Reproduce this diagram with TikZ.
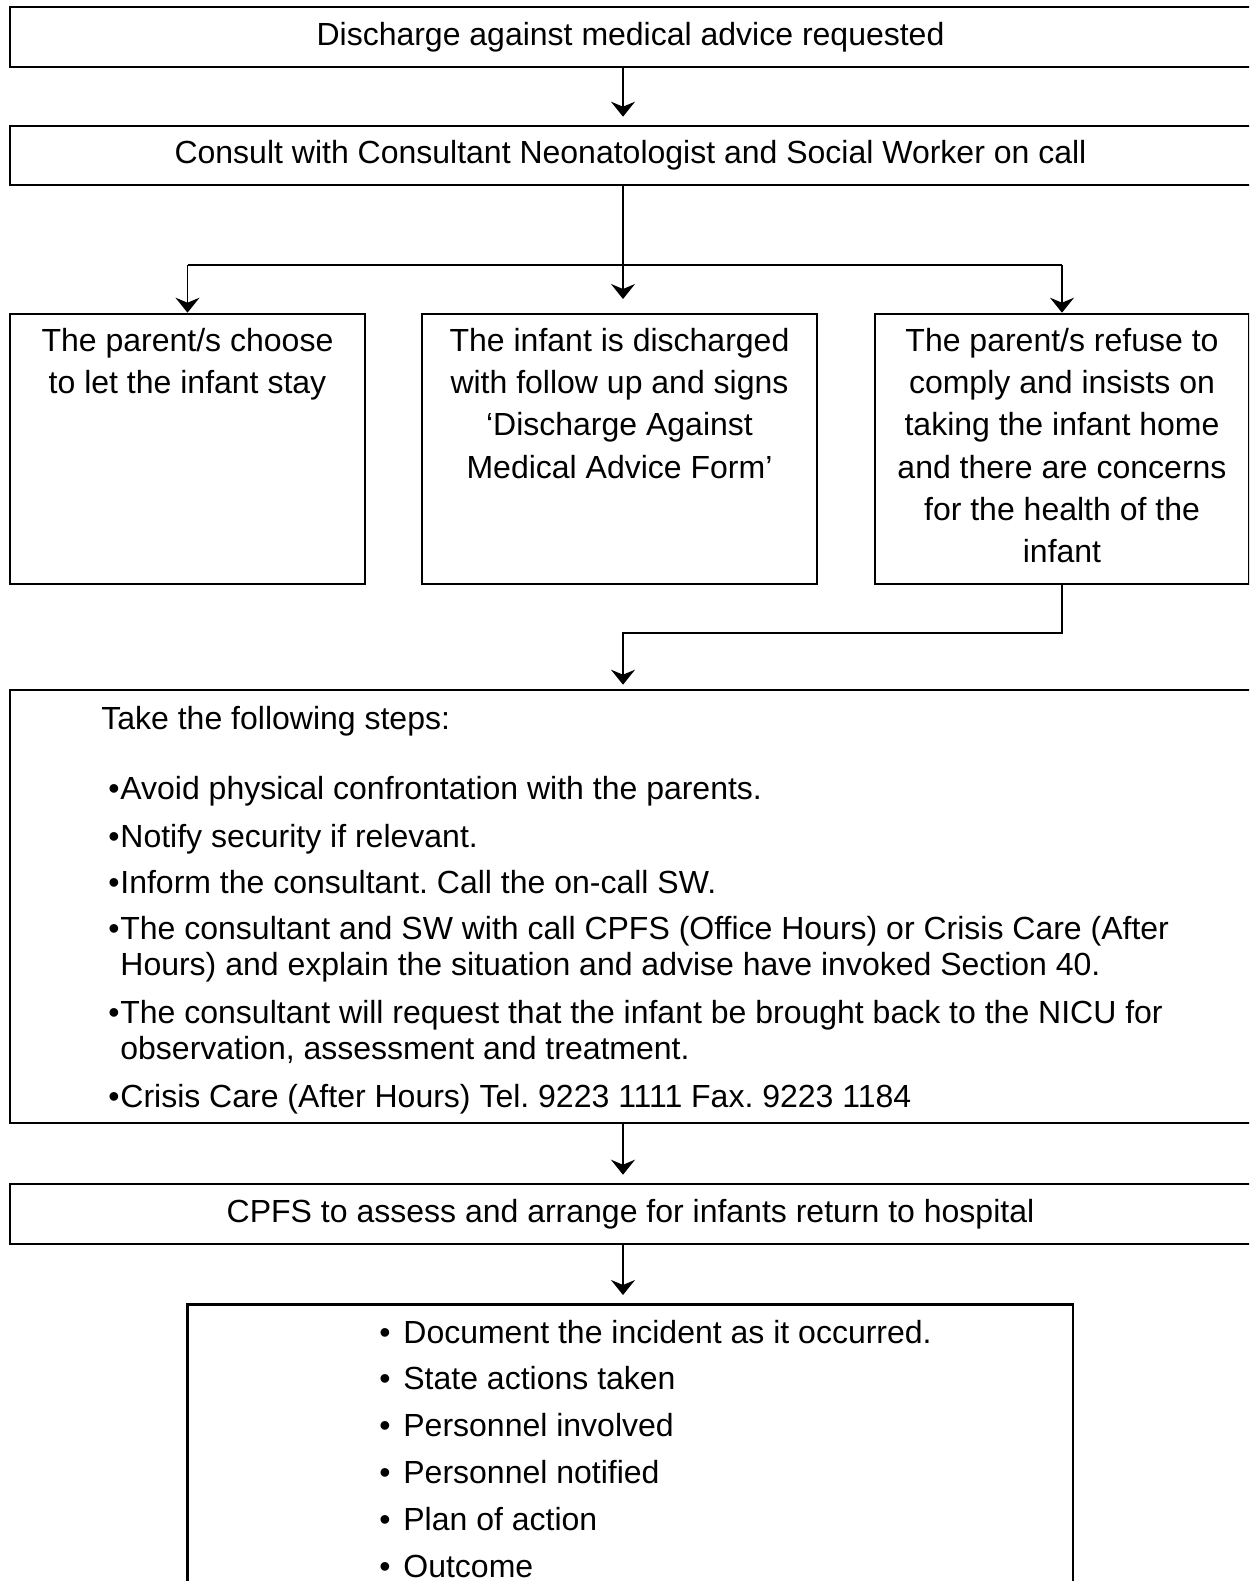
\documentclass[tikz,border=0pt]{standalone}
\usepackage{fontspec}
\setmainfont{Liberation Sans}
\frenchspacing
\usetikzlibrary{arrows.meta}
\begin{document}
\begin{tikzpicture}[x=0.5pt,y=-0.5pt,
		box/.style={draw,line width=1.3pt,inner sep=0pt,font=\fontsize{16}{21.15}\selectfont},
		txt/.style={inner sep=0pt,font=\fontsize{16}{21.15}\selectfont,align=center},
		lst/.style={inner sep=0pt,font=\fontsize{16}{18.15}\selectfont,align=left},
		arr/.style={line width=0.8pt,-{Stealth[length=7.5pt,width=12pt,inset=2.5pt]}}]
	\useasboundingbox (0,0) rectangle (1249,1581);
	\clip (0,0) rectangle (1249,1581);
	% boxes
	\node[box,minimum width=620.5pt,minimum height=30pt] (req) at (630.5,37) {Discharge against medical advice requested};
	\node[box,minimum width=620.5pt,minimum height=29.5pt] (consult) at (630.5,155.5) {Consult with Consultant Neonatologist and Social Worker on call};
	\node[box,minimum width=177.5pt,minimum height=135pt] (stay) at (187.5,449) {};
	\node[box,minimum width=197.5pt,minimum height=135pt] (home) at (619.5,449) {};
	\node[box,minimum width=187pt,minimum height=135pt] (refuse) at (1062,449) {};
	\node[box,minimum width=620.5pt,minimum height=216.5pt] (steps) at (630.5,906.5) {};
	\node[box,minimum width=620.5pt,minimum height=30pt] (cpfs) at (630.5,1214) {CPFS to assess and arrange for infants return to hospital};
	\node[box,minimum width=442.75pt,minimum height=160pt,anchor=north] (record) at (630.25,1303) {};
	\node[txt,anchor=north,yshift=-7.5pt] (staytxt) at (stay.north) {The parent/s choose\\to let the infant stay};
	\node[txt,anchor=north,yshift=-7.5pt] (hometxt) at (home.north) {The infant is discharged\\with follow up and signs\\‘Discharge Against\\Medical Advice Form’};
	\node[txt,anchor=north,yshift=-7.5pt] (refusetxt) at (refuse.north) {The parent/s refuse to\\comply and insists on\\taking the infant home\\and there are concerns\\for the health of the\\infant};
	% steps list
	\node[lst,anchor=base west] (head) at (101,729) {Take the following steps:};
	\node[lst,anchor=base] (b1) at (114,799) {\textbullet};
	\node[lst,anchor=base west] (s1) at (120,799) {Avoid physical confrontation with the parents.};
	\node[lst,anchor=base] (b2) at (114,847) {\textbullet};
	\node[lst,anchor=base west] (s2) at (120,847) {Notify security if relevant.};
	\node[lst,anchor=base] (b3) at (114,893) {\textbullet};
	\node[lst,anchor=base west] (s3) at (120,893) {Inform the consultant. Call the on-call SW.};
	\node[lst,anchor=base] (b4) at (114,939) {\textbullet};
	\node[lst,anchor=north west] (s4) at (120,916) {The consultant and SW with call CPFS (Office Hours) or Crisis Care (After\\Hours) and explain the situation and advise have invoked Section 40.};
	\node[lst,anchor=base] (b5) at (114,1023) {\textbullet};
	\node[lst,anchor=north west] (s5) at (120,1000) {The consultant will request that the infant be brought back to the NICU for\\observation, assessment and treatment.};
	\node[lst,anchor=base] (b6) at (114,1107) {\textbullet};
	\node[lst,anchor=base west] (s6) at (120,1107) {Crisis Care (After Hours) Tel. 9223 1111 Fax. 9223 1184};
	\foreach \t [count=\i] in {Document the incident as it occurred.,State actions taken,Personnel involved,Personnel notified,Plan of action,Outcome}
	{
		\node[lst,anchor=base] (dot\i) at (385,{1343+46.8*(\i-1)}) {\textbullet};
		\node[lst,anchor=base west] (rec\i) at (403,{1343+46.8*(\i-1)}) {\t};
	}
	% connectors
	\coordinate (mid) at (623,0);
	\coordinate (split) at (623,299);
	\coordinate (bar) at (0,265);
	\coordinate (turn) at (0,633);
	\draw[arr,shorten >=4pt] (req.south -| mid) -- (consult.north -| mid);
	\draw[arr] (consult.south -| mid) -- (split);
	\draw[line width=0.8pt] (bar -| stay.north) -- (bar -| refuse.north);
	\draw[arr] (bar -| stay.north) -- (stay.north);
	\draw[arr] (bar -| refuse.north) -- (refuse.north);
	\draw[arr,shorten >=2pt] (refuse.south) -- (refuse.south |- turn) -- (turn -| mid) -- (steps.north -| mid);
	\draw[arr,shorten >=4pt] (steps.south -| mid) -- (cpfs.north -| mid);
	\draw[arr,shorten >=4pt] (cpfs.south -| mid) -- (record.north -| mid);
\end{tikzpicture}
\end{document}
